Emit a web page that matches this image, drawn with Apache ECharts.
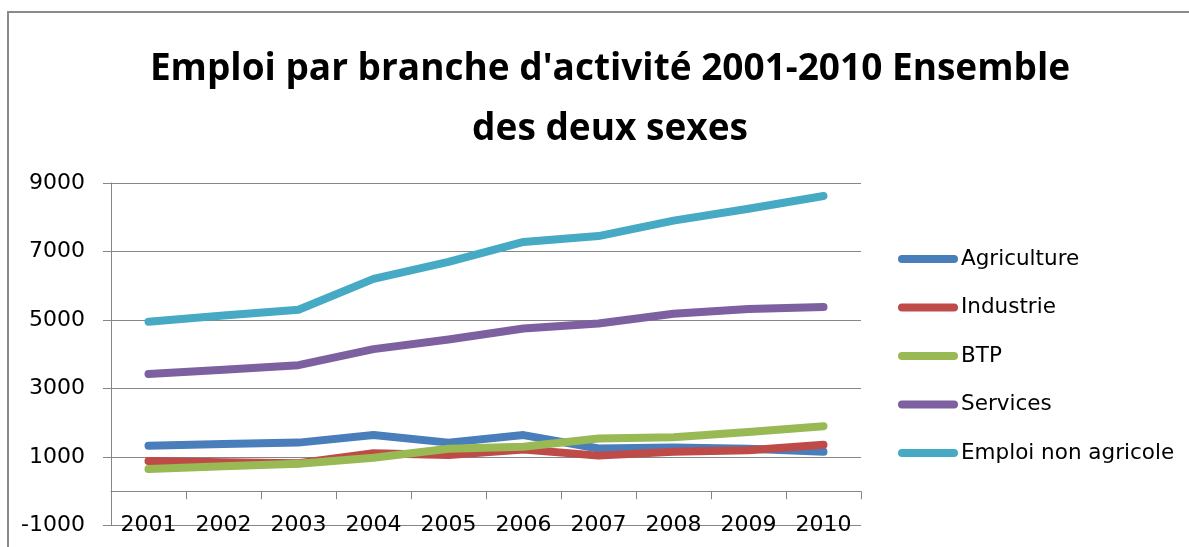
<!DOCTYPE html>
<html>
<head>
<meta charset="utf-8">
<script src="https://cdn.jsdelivr.net/npm/echarts@6/dist/echarts.min.js"></script>
<style>
    html, body { margin: 0; padding: 0; background: #fff; }
    #chart { width: 1189px; height: 547px; }
</style>
</head>
<body>
<div id="chart"></div>
<script>
// données
const years = ['2001', '2002', '2003', '2004', '2005', '2006', '2007', '2008', '2009', '2010']
const agriculture = [1330, 1380, 1420, 1640, 1420, 1640, 1250, 1280, 1240, 1150]
const industrie = [880, 850, 820, 1110, 1060, 1220, 1040, 1150, 1200, 1360]
const btp = [650, 730, 800, 980, 1240, 1300, 1540, 1580, 1730, 1900]
const services = [3420, 3550, 3680, 4150, 4430, 4750, 4900, 5180, 5320, 5380]
const emploiNonAgricole = [4950, 5130, 5300, 6200, 6700, 7280, 7450, 7900, 8250, 8620]

const titleFont = '"Open Sans", Lato, sans-serif'
const font = '"DejaVu Sans", sans-serif'
const gray = '#868686'

const chart = echarts.init(document.getElementById('chart'))

function serie(name, color, data) {
    return {
        name: name,
        type: 'line',
        symbol: 'none',
        data: data,
        color: color,
        lineStyle: {
            color: color,
            width: 8,
            cap: 'round',
            join: 'round'
        }
    }
}

const option = {
    backgroundColor: '#fff',
    animation: false,
    title: {
        text: 'Emploi par branche d\'activité 2001-2010 Ensemble\ndes deux sexes',
        left: 605,
        top: 34,
        textAlign: 'center',
        textStyle: {
            fontFamily: titleFont,
            fontWeight: 'bold',
            fontSize: 37,
            lineHeight: 60,
            color: '#000'
        }
    },
    graphic: [{
        type: 'rect',
        shape: { x: 8, y: 12, width: 1300, height: 700 },
        style: { fill: 'none', stroke: '#8a8a8a', lineWidth: 2 },
        silent: true
    }],
    legend: {
        orient: 'vertical',
        left: 893,
        top: 243,
        itemWidth: 60,
        itemHeight: 20,
        itemGap: 26.5,
        icon: 'path://M4,0 L56,0 A4,4 0 0 1 56,8 L4,8 A4,4 0 0 1 4,0 Z',
        textStyle: {
            fontFamily: font,
            fontSize: 21.5,
            color: '#000',
            padding: [0, 0, 0, -2]
        }
    },
    grid: {
        left: 111,
        right: 328,
        top: 183,
        bottom: 21.5
    },
    xAxis: [{
        type: 'category',
        data: years,
        boundaryGap: true,
        axisLine: { onZero: true, lineStyle: { color: gray, width: 1 } },
        axisTick: { show: true, length: 8, lineStyle: { color: gray } },
        axisLabel: { show: false },
        splitLine: { show: false }
    }, {
        type: 'category',
        data: years,
        position: 'bottom',
        offset: 0,
        boundaryGap: true,
        axisLine: { show: false },
        axisTick: { show: false },
        axisLabel: {
            fontFamily: font,
            fontSize: 22,
            color: '#000',
            margin: -11
        },
        splitLine: { show: false }
    }],
    yAxis: {
        type: 'value',
        min: -1000,
        max: 9000,
        interval: 2000,
        axisLine: { show: true, lineStyle: { color: gray, width: 1 } },
        axisTick: { show: true, length: 8, lineStyle: { color: gray } },
        axisLabel: {
            fontFamily: font,
            fontSize: 22,
            color: '#000',
            margin: 26,
            formatter: v => String(v)
        },
        splitLine: { show: true, lineStyle: { color: gray, width: 1 } }
    },
    series: [
        serie('Agriculture', '#4a7ebb', agriculture),
        serie('Industrie', '#be4b48', industrie),
        serie('BTP', '#98b954', btp),
        serie('Services', '#7d60a0', services),
        serie('Emploi non agricole', '#46aac5', emploiNonAgricole)
    ]
}

chart.setOption(option)
</script>
</body>
</html>
